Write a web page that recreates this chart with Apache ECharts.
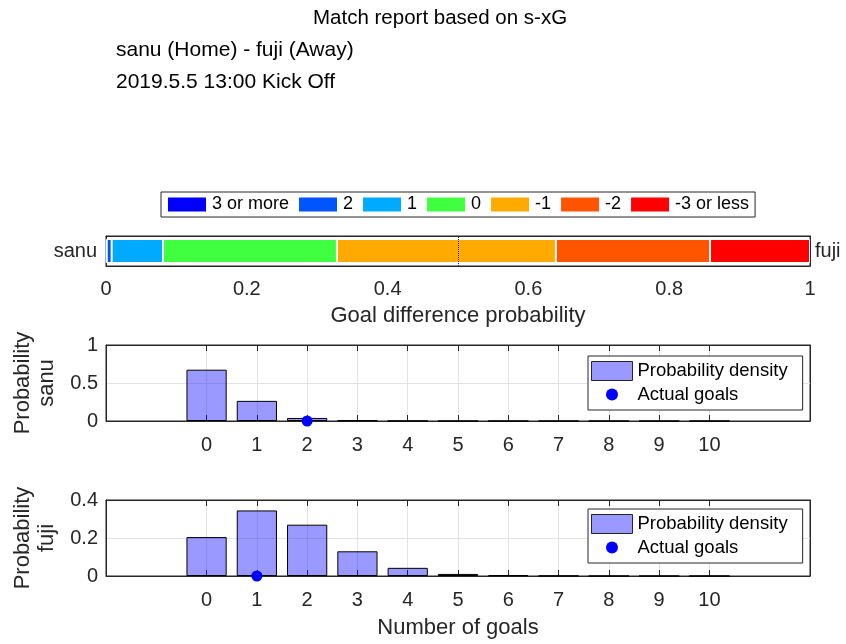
<!DOCTYPE html>
<html><head><meta charset="utf-8">
<script src="https://cdn.jsdelivr.net/npm/echarts@6/dist/echarts.min.js"></script>
<style>html,body{margin:0;padding:0;background:#fff}#c{width:846px;height:644px}</style>
</head><body><div id="c"></div>
<script>
// ---- data ----
const titleText = 'Match report based on s-xG';
const matchText = 'sanu (Home) - fuji (Away)';
const kickoffText = '2019.5.5 13:00 Kick Off';
const homeTeam = 'sanu';
const awayTeam = 'fuji';
const gdCategories = ['3 or more', '2', '1', '0', '-1', '-2', '-3 or less'];
const gdProb = [0.001, 0.007, 0.073, 0.247, 0.311, 0.219, 0.142];
const gdColors = ['#0000ff', '#0055ff', '#00aaff', '#40ff40', '#ffaa00', '#ff5500', '#ff0000'];
const goals = [0, 1, 2, 3, 4, 5, 6, 7, 8, 9, 10];
const homeProb = [0.675, 0.265, 0.04, 0.007, 0.001, 0, 0, 0, 0, 0, 0];
const awayProb = [0.205, 0.345, 0.27, 0.13, 0.043, 0.011, 0.004, 0.001, 0, 0, 0];
const homeActual = 2;
const awayActual = 1;
const goalAxisMin = -2, goalAxisMax = 12;

// ---- build ----
const FONT = '"Liberation Sans", Arial, Helvetica, sans-serif';
const AX = '#262626';
const GRIDC = '#e3e3e3';
const axisCats = [];
for (let g = goalAxisMin; g <= goalAxisMax; g++) axisCats.push(String(g));
const isTick = (i, v) => goals.indexOf(Number(v !== undefined ? v : axisCats[i])) >= 0;
const padData = arr => axisCats.map(c => { const k = goals.indexOf(Number(c)); return k >= 0 ? arr[k] : '-'; });

const L = 106, R = 36;
const grids = [
  {left: L, right: R, top: 236, height: 30},
  {left: L, right: R, top: 345, height: 76},
  {left: L, right: R, top: 500, height: 76}
].map(g => Object.assign(g, {show: true, borderColor: AX, borderWidth: 1, backgroundColor: 'transparent', outerBoundsMode: 'none', containLabel: false}));

const tick = {inside: true, length: 6, lineStyle: {color: AX, width: 1}};
const line = {show: true, onZero: false, lineStyle: {color: AX, width: 1}};
const lbl = {fontSize: 20, color: AX, fontFamily: FONT};

function catX(gi, pos, showLabel, name) {
  const a = {
    gridIndex: gi, type: 'category', data: axisCats, boundaryGap: false, position: pos,
    axisLine: line,
    axisTick: Object.assign({interval: isTick}, tick),
    axisLabel: Object.assign({show: showLabel, interval: isTick, margin: 14}, lbl),
    splitLine: {show: showLabel, interval: isTick, lineStyle: {color: GRIDC, width: 1}}
  };
  if (name) Object.assign(a, {name: name, nameLocation: 'middle', nameGap: 41, nameTextStyle: {fontSize: 22, color: AX, fontFamily: FONT}});
  return a;
}
function valY(gi, pos, max, interval, showLabel, name) {
  const a = {
    gridIndex: gi, type: 'value', min: 0, max: max, interval: interval, position: pos,
    axisLine: line, axisTick: tick,
    axisLabel: Object.assign({show: showLabel, margin: 8}, lbl),
    splitLine: {show: showLabel, lineStyle: {color: GRIDC, width: 1}}
  };
  if (name) Object.assign(a, {name: name, nameLocation: 'middle', nameGap: 44, nameRotate: 90,
    nameTextStyle: {fontSize: 22, color: AX, fontFamily: FONT, lineHeight: 24}});
  return a;
}

const xAxes = [
  {gridIndex: 0, type: 'value', min: 0, max: 1, interval: 0.2, position: 'bottom',
   axisLine: line, axisTick: tick, axisLabel: Object.assign({margin: 13}, lbl), splitLine: {show: false},
   name: 'Goal difference probability', nameLocation: 'middle', nameGap: 39,
   nameTextStyle: {fontSize: 22, color: AX, fontFamily: FONT}},
  {gridIndex: 0, type: 'value', min: 0, max: 1, interval: 0.2, position: 'top',
   axisLine: line, axisTick: tick, axisLabel: {show: false}, splitLine: {show: false}},
  catX(1, 'bottom', true), catX(1, 'top', false),
  catX(2, 'bottom', true, 'Number of goals'), catX(2, 'top', false)
];
const yAxes = [
  {gridIndex: 0, type: 'category', data: [homeTeam], position: 'left', axisLine: line,
   axisTick: Object.assign({alignWithLabel: true}, tick), axisLabel: Object.assign({margin: 9}, lbl)},
  {gridIndex: 0, type: 'category', data: [awayTeam], position: 'right', axisLine: line,
   axisTick: Object.assign({alignWithLabel: true}, tick), axisLabel: Object.assign({margin: 5}, lbl)},
  valY(1, 'left', 1, 0.5, true, 'Probability\n' + homeTeam), valY(1, 'right', 1, 0.5, false),
  valY(2, 'left', 0.4, 0.2, true, 'Probability\n' + awayTeam), valY(2, 'right', 0.4, 0.2, false)
];

const series = gdCategories.map((c, i) => {
  const s = {
    name: c, type: 'bar', stack: 'gd', xAxisIndex: 0, yAxisIndex: 0, barWidth: '80%',
    data: [gdProb[i]],
    itemStyle: {color: gdColors[i], borderColor: '#ffffff', borderWidth: 1}
  };
  if (i === gdCategories.length - 1) {
    s.markLine = {silent: true, symbol: 'none', label: {show: false},
      lineStyle: {type: 'dotted', color: AX, width: 1}, data: [{xAxis: 0.5}]};
  }
  return s;
});
const barStyle = {color: 'rgba(0,0,255,0.4)', borderColor: '#000', borderWidth: 1};
const dotStyle = {color: '#0000ff', opacity: 1};
series.push(
  {name: 'Probability density', type: 'bar', xAxisIndex: 2, yAxisIndex: 2, barWidth: '80%', data: padData(homeProb), itemStyle: barStyle},
  {name: 'Actual goals', type: 'scatter', xAxisIndex: 2, yAxisIndex: 2, clip: false, symbolSize: 11, z: 5,
   data: [[String(homeActual), 0]], itemStyle: dotStyle},
  {name: 'Probability density', type: 'bar', xAxisIndex: 4, yAxisIndex: 4, barWidth: '80%', data: padData(awayProb), itemStyle: barStyle},
  {name: 'Actual goals', type: 'scatter', xAxisIndex: 4, yAxisIndex: 4, clip: false, symbolSize: 11, z: 5,
   data: [[String(awayActual), 0]], itemStyle: dotStyle}
);

const dotIcon = 'path://M0,0M41,19M14.5,9.5A6,6 0 1 1 26.5,9.5A6,6 0 1 1 14.5,9.5Z';
function panelLegend(top) {
  return {
    orient: 'vertical', left: 588, top: top, selectedMode: false,
    itemWidth: 41, itemHeight: 19, itemGap: 4, padding: [5, 15, 6, 3],
    borderColor: AX, borderWidth: 1, backgroundColor: '#fff',
    textStyle: {fontSize: 18.5, color: '#000', fontFamily: FONT},
    data: [
      {name: 'Probability density', icon: 'rect', itemStyle: {color: 'rgba(0,0,255,0.4)', borderColor: AX, borderWidth: 1}},
      {name: 'Actual goals', icon: dotIcon, itemStyle: {color: '#0000ff', opacity: 1, borderWidth: 0}}
    ]
  };
}

const option = {
  animation: false,
  textStyle: {fontFamily: FONT},
  title: [
    {text: titleText, left: 313, top: 8, padding: 0, textStyle: {fontSize: 20.5, fontWeight: 'normal', color: '#000', fontFamily: FONT}},
    {text: matchText, left: 116, top: 40, padding: 0, textStyle: {fontSize: 21, fontWeight: 'normal', color: '#000', fontFamily: FONT}},
    {text: kickoffText, left: 116, top: 72, padding: 0, textStyle: {fontSize: 21, fontWeight: 'normal', color: '#000', fontFamily: FONT}}
  ],
  legend: [
    {orient: 'horizontal', left: 161, top: 192, selectedMode: false, icon: 'rect',
     itemWidth: 40, itemHeight: 16, itemGap: 8, padding: [3, 6, 3, 5],
     borderColor: AX, borderWidth: 1, backgroundColor: '#fff',
     textStyle: {fontSize: 18, color: '#000', fontFamily: FONT, lineHeight: 19},
     data: gdCategories},
    panelLegend(356),
    panelLegend(509)
  ],
  grid: grids,
  xAxis: xAxes,
  yAxis: yAxes,
  series: series
};
const chart = echarts.init(document.getElementById('c'), null, {renderer: 'canvas'});
chart.setOption(option);
</script></body></html>
